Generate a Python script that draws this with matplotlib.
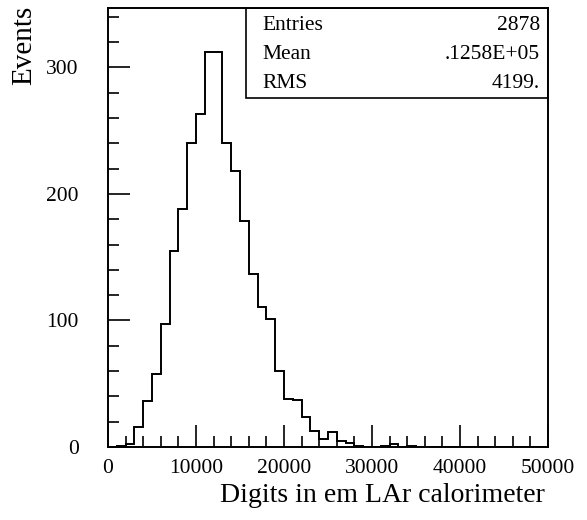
import numpy as np
import matplotlib.pyplot as plt
from matplotlib.patches import Rectangle

plt.rcParams['font.family'] = ['Liberation Serif', 'DejaVu Serif']

# 50 bins of width 1000 between 0 and 50000
edges = np.arange(0, 51000, 1000)
counts = [0, 1, 2, 16, 36, 58, 97, 155, 188, 240,
          263, 312, 312, 240, 218, 179, 137, 111, 101, 60,
          38, 37, 24, 13, 6, 12, 5, 3, 1, 0,
          0, 1, 2, 0, 1, 0, 0, 0, 0, 0,
          0, 0, 0, 0, 0, 0, 0, 0, 0, 0]

stat_names = ['Entries', 'Mean', 'RMS']
stat_values = ['2878', '.1258E+05', '4199.']

fig = plt.figure(figsize=(5.87, 5.2), dpi=100)
ax = fig.add_axes([0.184, 0.1404, 0.7496, 0.8442])

ax.stairs(counts, edges, color='black', linewidth=1.4)

ax.set_xlim(0, 50000)
ax.set_ylim(0, 347)
ax.set_xticks(np.arange(0, 50001, 10000))
ax.set_xticks(np.arange(0, 50001, 2000), minor=True)
ax.set_yticks([0, 100, 200, 300])
ax.set_yticks(np.arange(0, 341, 20), minor=True)

ax.tick_params(which='both', direction='in', color='black', width=1.2)
ax.tick_params(which='major', length=16)
ax.tick_params(which='minor', length=8)
ax.tick_params(axis='x', which='major', labelsize=15.5, pad=9)
ax.tick_params(axis='y', which='major', labelsize=15.5, pad=21)
ax.tick_params(top=False, right=False, which='both')
for s in ax.spines.values():
    s.set_linewidth(1.4)

# statistics box in the upper right corner
ax.add_patch(Rectangle((0.3136, 0.796), 0.6864, 0.204, transform=ax.transAxes,
                       fill=False, edgecolor='black', linewidth=1.2))
rows_y = [0.961, 0.895, 0.829]
for name, val, y in zip(stat_names, stat_values, rows_y):
    ax.text(0.35, y, name, transform=ax.transAxes, fontsize=15.5,
            ha='left', va='center')
    ax.text(0.982, y, val, transform=ax.transAxes, fontsize=15.5,
            ha='right', va='center')

fig.text(24 / 587, 1 - 6 / 520, 'Events', rotation=90, fontsize=21,
         ha='center', va='top')
fig.text(545 / 587, 1 - 496 / 520, 'Digits in em LAr calorimeter',
         fontsize=20, ha='right', va='center')

fig.savefig('out.png', dpi=100)
